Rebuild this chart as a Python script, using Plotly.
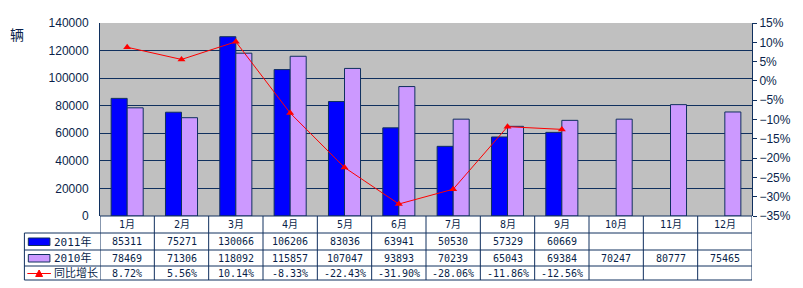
import plotly.graph_objects as go

months = ["1月", "2月", "3月", "4月", "5月", "6月", "7月", "8月", "9月", "10月", "11月", "12月"]
sales_2011 = [85311, 75271, 130066, 106206, 83036, 63941, 50530, 57329, 60669]
sales_2010 = [78469, 71306, 118092, 115857, 107047, 93893, 70239, 65043, 69384, 70247, 80777, 75465]
growth = [8.72, 5.56, 10.14, -8.33, -22.43, -31.90, -28.06, -11.86, -12.56]
series_names = ["2011年", "2010年", "同比增长"]

W, H = 803, 288
L, R, T, B = 100, 764, 23, 216
NAVY = "#10305e"
TXT = "#0a1f4a"
BLUE = "#0000ff"
PURPLE = "#cc99ff"
RED = "#ff0000"
MONO = "DejaVu Sans Mono, Noto Sans CJK SC"


def py(px):
    return (B - px) / (B - T)


def px_x(px):
    return (px - L) / (R - L)


fig = go.Figure()
fig.add_trace(go.Bar(x=months[:len(sales_2011)], y=sales_2011, name=series_names[0],
                     marker=dict(color=BLUE, line=dict(color=NAVY, width=1))))
fig.add_trace(go.Bar(x=months, y=sales_2010, name=series_names[1],
                     marker=dict(color=PURPLE, line=dict(color=NAVY, width=1))))
fig.add_trace(go.Scatter(x=months[:len(growth)], y=growth, name=series_names[2], yaxis="y2",
                         mode="lines+markers", line=dict(color=RED, width=1),
                         marker=dict(symbol="triangle-up", size=7, color=RED)))

shapes = []
annotations = []
line = dict(color=NAVY, width=1)
row_edges = [216, 233, 250, 266, 280]
# horizontal table lines
shapes.append(dict(type="line", xref="paper", yref="paper", x0=px_x(100), x1=1,
                   y0=py(216), y1=py(216), line=line))
for yy in row_edges[1:]:
    shapes.append(dict(type="line", xref="paper", yref="paper", x0=px_x(23), x1=1,
                       y0=py(yy), y1=py(yy), line=line))
# vertical lines
shapes.append(dict(type="line", xref="paper", yref="paper", x0=px_x(23), x1=px_x(23),
                   y0=py(233), y1=py(280), line=line))
for i in range(len(months) + 1):
    shapes.append(dict(type="line", xref="x", yref="paper", x0=i - 0.5, x1=i - 0.5,
                       y0=py(216), y1=py(280), line=line))

# table content
rows = [
    (months, (216 + 233) / 2),
    ([str(v) for v in sales_2011], (233 + 250) / 2),
    ([str(v) for v in sales_2010], (250 + 266) / 2),
    (["%.2f%%" % v for v in growth], (266 + 280) / 2),
]
for vals, yc in rows:
    for i, v in enumerate(vals):
        annotations.append(dict(x=i, y=py(yc), xref="x", yref="paper", text=v,
                                showarrow=False, font=dict(family=MONO, size=10, color=TXT),
                                xanchor="center", yanchor="middle"))

# legend keys in table
shapes.append(dict(type="rect", xref="paper", yref="paper", x0=px_x(27), x1=px_x(49),
                   y0=py(245.5), y1=py(238), fillcolor=BLUE, line=dict(color=NAVY, width=1)))
shapes.append(dict(type="rect", xref="paper", yref="paper", x0=px_x(27), x1=px_x(49),
                   y0=py(262), y1=py(254.5), fillcolor=PURPLE, line=dict(color=NAVY, width=1)))
shapes.append(dict(type="line", xref="paper", yref="paper", x0=px_x(26), x1=px_x(50),
                   y0=py(273.5), y1=py(273.5), line=dict(color=RED, width=1)))
tri = "M %f,%f L %f,%f L %f,%f Z" % (px_x(34.5), py(276.5), px_x(41.5), py(276.5), px_x(38), py(270))
shapes.append(dict(type="path", xref="paper", yref="paper", path=tri, fillcolor=RED,
                   line=dict(color=RED, width=1)))
for name, yc in zip(series_names, [(233 + 250) / 2, (250 + 266) / 2, (266 + 280) / 2]):
    annotations.append(dict(x=px_x(51), y=py(yc), xref="paper", yref="paper", text=name,
                            showarrow=False, font=dict(family=MONO, size=11, color=TXT),
                            xanchor="left", yanchor="middle"))

annotations.append(dict(x=px_x(15), y=py(34), xref="paper", yref="paper", text="辆",
                        showarrow=False, font=dict(family="Noto Sans CJK SC", size=14, color=TXT),
                        xanchor="center", yanchor="middle"))

fig.update_layout(
    width=W, height=H,
    margin=dict(l=L, r=W - R, t=T, b=H - B, pad=0),
    paper_bgcolor="white", plot_bgcolor="#c0c0c0",
    barmode="group", bargap=0.41, bargroupgap=0,
    showlegend=False,
    shapes=shapes, annotations=annotations,
    xaxis=dict(showticklabels=False, showgrid=False, ticks="", range=[-0.5, 11.5],
               showline=False, zeroline=False),
    yaxis=dict(range=[0, 140000], dtick=20000, tickformat="d", showgrid=True, gridcolor=NAVY,
               gridwidth=1, showline=True, linecolor=NAVY, linewidth=1, ticks="", zeroline=False,
               tickfont=dict(family="Liberation Sans, Noto Sans CJK SC", size=12, color=TXT),
               ticklabelstandoff=8),
    yaxis2=dict(range=[-35, 15], dtick=5, overlaying="y", side="right", showgrid=False,
                ticksuffix="%", showline=True, linecolor=NAVY, linewidth=1,
                ticks="outside", ticklen=4, tickcolor=NAVY, zeroline=False,
                tickfont=dict(family="Liberation Sans, Noto Sans CJK SC", size=12, color=TXT)),
    font=dict(family="Liberation Sans, Noto Sans CJK SC", color=TXT),
)

fig.write_html("out.html")
